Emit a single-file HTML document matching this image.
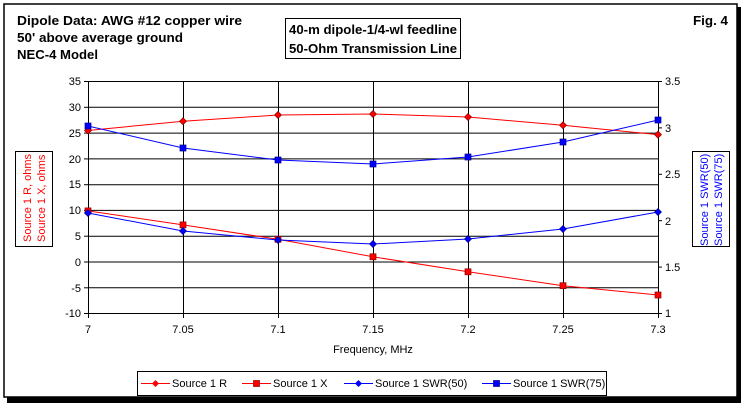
<!DOCTYPE html><html><head><style>
body{margin:0;background:#fff;width:745px;height:408px;overflow:hidden;font-family:"Liberation Sans",Arial,sans-serif}
</style></head><body>
<svg width="745" height="408" xmlns="http://www.w3.org/2000/svg" font-family="Liberation Sans, Arial, sans-serif">
<rect x="7" y="7" width="734" height="396" fill="#000"/>
<rect x="4" y="4" width="733" height="393" fill="#fff" stroke="#000" stroke-width="1.5"/>
<g font-weight="bold" font-size="13" fill="#000">
<text x="17" y="25" textLength="225" lengthAdjust="spacingAndGlyphs">Dipole Data:  AWG #12 copper wire</text>
<text x="17" y="42" textLength="166" lengthAdjust="spacingAndGlyphs">50' above average ground</text>
<text x="17" y="59" textLength="81" lengthAdjust="spacingAndGlyphs">NEC-4 Model</text>
<text x="693" y="25" textLength="35" lengthAdjust="spacingAndGlyphs">Fig. 4</text>
<rect x="285.5" y="18.5" width="175" height="40" fill="none" stroke="#000"/>
<text x="289" y="34" textLength="168" lengthAdjust="spacingAndGlyphs">40-m dipole-1/4-wl feedline</text>
<text x="289" y="53" textLength="168" lengthAdjust="spacingAndGlyphs">50-Ohm Transmission Line</text>
</g>
<g stroke="#000" stroke-width="1">
<line x1="88" y1="81.5" x2="658" y2="81.5"/><line x1="88" y1="107.3" x2="658" y2="107.3"/><line x1="88" y1="133.1" x2="658" y2="133.1"/><line x1="88" y1="158.9" x2="658" y2="158.9"/><line x1="88" y1="184.7" x2="658" y2="184.7"/><line x1="88" y1="210.4" x2="658" y2="210.4"/><line x1="88" y1="236.2" x2="658" y2="236.2"/><line x1="88" y1="262" x2="658" y2="262"/><line x1="88" y1="287.8" x2="658" y2="287.8"/><line x1="88" y1="313.5" x2="658" y2="313.5"/>
<line x1="88.5" y1="81" x2="88.5" y2="318"/><line x1="183.5" y1="81" x2="183.5" y2="318"/><line x1="278.5" y1="81" x2="278.5" y2="318"/><line x1="373.5" y1="81" x2="373.5" y2="318"/><line x1="468.5" y1="81" x2="468.5" y2="318"/><line x1="563.5" y1="81" x2="563.5" y2="318"/><line x1="658.5" y1="81" x2="658.5" y2="318"/>
<line x1="84" y1="81.5" x2="88" y2="81.5"/><line x1="84" y1="107.3" x2="88" y2="107.3"/><line x1="84" y1="133.1" x2="88" y2="133.1"/><line x1="84" y1="158.9" x2="88" y2="158.9"/><line x1="84" y1="184.7" x2="88" y2="184.7"/><line x1="84" y1="210.4" x2="88" y2="210.4"/><line x1="84" y1="236.2" x2="88" y2="236.2"/><line x1="84" y1="262" x2="88" y2="262"/><line x1="84" y1="287.8" x2="88" y2="287.8"/><line x1="84" y1="313.5" x2="88" y2="313.5"/>
<line x1="658" y1="81.5" x2="662" y2="81.5"/><line x1="658" y1="127.9" x2="662" y2="127.9"/><line x1="658" y1="174.3" x2="662" y2="174.3"/><line x1="658" y1="220.7" x2="662" y2="220.7"/><line x1="658" y1="267.1" x2="662" y2="267.1"/><line x1="658" y1="313.5" x2="662" y2="313.5"/>
</g>
<g font-size="11" fill="#000" text-anchor="end">
<text x="81" y="85">35</text><text x="81" y="111">30</text><text x="81" y="137">25</text><text x="81" y="163">20</text><text x="81" y="188">15</text><text x="81" y="214">10</text><text x="81" y="240">5</text><text x="81" y="266">0</text><text x="81" y="292">-5</text><text x="81" y="317">-10</text>
</g>
<g font-size="11" fill="#000">
<text x="665" y="85">3.5</text><text x="665" y="132">3</text><text x="665" y="178">2.5</text><text x="665" y="225">2</text><text x="665" y="271">1.5</text><text x="665" y="317">1</text>
</g>
<g font-size="11" fill="#000" text-anchor="middle">
<text x="88" y="333">7</text><text x="183" y="333">7.05</text><text x="278" y="333">7.1</text><text x="373" y="333">7.15</text><text x="468" y="333">7.2</text><text x="563" y="333">7.25</text><text x="658" y="333">7.3</text>
<text x="373" y="353">Frequency, MHz</text>
</g>
<rect x="15.5" y="151.5" width="37" height="95" fill="none" stroke="#000"/>
<g font-size="11" fill="#f00"><text transform="translate(31,242) rotate(-90)">Source 1 R,  ohms</text><text transform="translate(45,242) rotate(-90)">Source 1 X,  ohms</text></g>
<rect x="692.5" y="151.5" width="37" height="95" fill="none" stroke="#000"/>
<g font-size="11" fill="#00f"><text transform="translate(708,246) rotate(-90)">Source 1 SWR(50)</text><text transform="translate(722,246) rotate(-90)">Source 1 SWR(75)</text></g>
<polyline fill="none" stroke="#f00" points="88,130.5 183,121.2 278,115 373,114 468,117 563,125.3 658,134.6"/>
<polyline fill="none" stroke="#f00" points="88,210.9 183,224.9 278,239.3 373,256.8 468,271.8 563,285.7 658,295"/>
<polyline fill="none" stroke="#00f" points="88,213 183,231 278,240 373,244 468,239 563,229 658,212"/>
<polyline fill="none" stroke="#00f" points="88,126 183,148 278,160 373,164 468,157 563,142 658,120"/>
<g fill="#f00" stroke="#800" stroke-width=".7">
<path d="M88,127 l3.5,3.5 -3.5,3.5 -3.5,-3.5z"/><path d="M183,117.7 l3.5,3.5 -3.5,3.5 -3.5,-3.5z"/><path d="M278,111.5 l3.5,3.5 -3.5,3.5 -3.5,-3.5z"/><path d="M373,110.5 l3.5,3.5 -3.5,3.5 -3.5,-3.5z"/><path d="M468,113.5 l3.5,3.5 -3.5,3.5 -3.5,-3.5z"/><path d="M563,121.8 l3.5,3.5 -3.5,3.5 -3.5,-3.5z"/><path d="M658,131.1 l3.5,3.5 -3.5,3.5 -3.5,-3.5z"/>
<rect x="85" y="207.9" width="6" height="6"/><rect x="180" y="221.9" width="6" height="6"/><rect x="275" y="236.3" width="6" height="6"/><rect x="370" y="253.8" width="6" height="6"/><rect x="465" y="268.8" width="6" height="6"/><rect x="560" y="282.7" width="6" height="6"/><rect x="655" y="292" width="6" height="6"/>
</g>
<g fill="#00f" stroke="#008" stroke-width=".7">
<path d="M88,209.5 l3.5,3.5 -3.5,3.5 -3.5,-3.5z"/><path d="M183,227.5 l3.5,3.5 -3.5,3.5 -3.5,-3.5z"/><path d="M278,236.5 l3.5,3.5 -3.5,3.5 -3.5,-3.5z"/><path d="M373,240.5 l3.5,3.5 -3.5,3.5 -3.5,-3.5z"/><path d="M468,235.5 l3.5,3.5 -3.5,3.5 -3.5,-3.5z"/><path d="M563,225.5 l3.5,3.5 -3.5,3.5 -3.5,-3.5z"/><path d="M658,208.5 l3.5,3.5 -3.5,3.5 -3.5,-3.5z"/>
<rect x="85" y="123" width="6" height="6"/><rect x="180" y="145" width="6" height="6"/><rect x="275" y="157" width="6" height="6"/><rect x="370" y="161" width="6" height="6"/><rect x="465" y="154" width="6" height="6"/><rect x="560" y="139" width="6" height="6"/><rect x="655" y="117" width="6" height="6"/>
</g>
<rect x="137.5" y="371.5" width="469" height="24" fill="none" stroke="#000"/>
<g font-size="11" fill="#000">
<line x1="141" y1="383.5" x2="170" y2="383.5" stroke="#f00"/><path d="M155.5,380 l3.5,3.5 -3.5,3.5 -3.5,-3.5z" fill="#f00"/><text x="172" y="387">Source 1 R</text>
<line x1="242" y1="383.5" x2="271" y2="383.5" stroke="#f00"/><rect x="253.5" y="380.5" width="6" height="6" fill="#f00" stroke="#800" stroke-width=".7"/><text x="273" y="387">Source 1 X</text>
<line x1="344" y1="383.5" x2="373" y2="383.5" stroke="#00f"/><path d="M358.5,380 l3.5,3.5 -3.5,3.5 -3.5,-3.5z" fill="#00f"/><text x="375" y="387">Source 1 SWR(50)</text>
<line x1="482" y1="383.5" x2="511" y2="383.5" stroke="#00f"/><rect x="493.5" y="380.5" width="6" height="6" fill="#00f" stroke="#008" stroke-width=".7"/><text x="513" y="387">Source 1 SWR(75)</text>
</g>
</svg>
</body></html>
